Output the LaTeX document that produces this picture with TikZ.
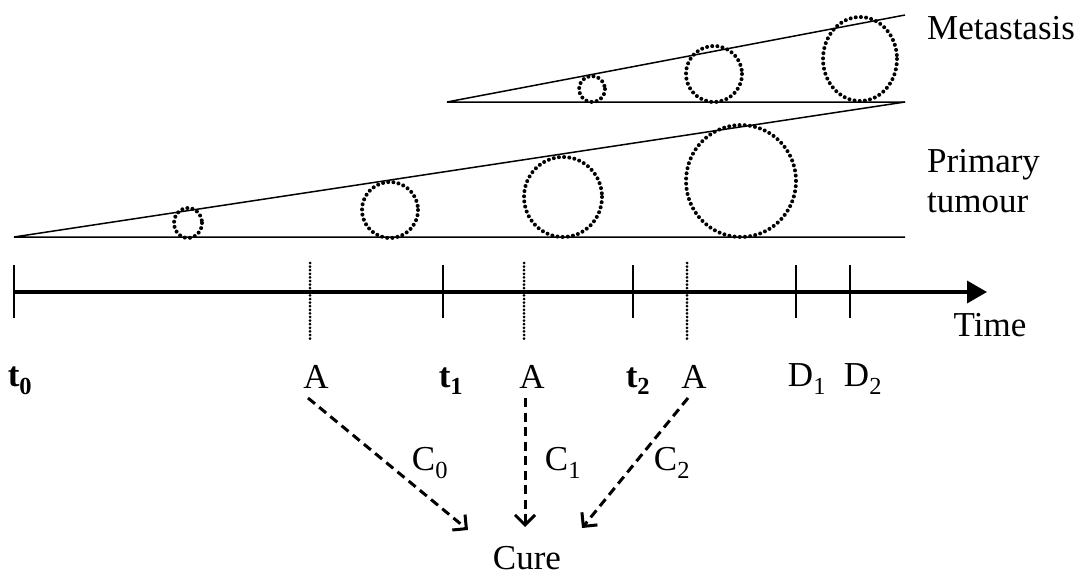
\documentclass[tikz,border=0pt]{standalone}
\usepackage{fontspec}
\setmainfont{Liberation Serif}
\usetikzlibrary{arrows.meta}
\begin{document}
\begin{tikzpicture}[x=1pt,y=-1pt,
  wedge/.style={line width=1.5pt},
  cell/.style={line width=4pt,dash pattern=on 0pt off 5.2pt,line cap=round},
  axis/.style={line width=3.6pt},
  tick/.style={line width=2.8pt},
  admin/.style={line width=3pt,dash pattern=on 0pt off 3.6pt,line cap=round},
  cureline/.style={line width=3pt,dash pattern=on 9pt off 5.5pt,-{Straight Barb[length=10pt,width=20pt,line width=3pt]}},
  lbl/.style={font=\fontsize{35}{40}\selectfont,inner sep=0pt},
  blbl/.style={font=\fontsize{35}{40}\selectfont\bfseries,inner sep=0pt}]
\useasboundingbox (0,0) rectangle (1089,578);
% primary tumour wedge
\coordinate (p0) at (14,237);
\coordinate (p1) at (905,237);
\coordinate (p2) at (905,102);
\draw[wedge] (p1) -- (p0) -- (p2);
\draw[cell] (188,223) ellipse [x radius=14,y radius=15];
\draw[cell] (390,210) ellipse [x radius=28,y radius=28];
\draw[cell] (563,197) ellipse [x radius=39,y radius=40];
\draw[cell] (741,181) ellipse [x radius=55,y radius=56];
% metastasis wedge
\coordinate (m0) at (447,102);
\coordinate (m1) at (905,102);
\coordinate (m2) at (905,15);
\draw[wedge] (m1) -- (m0) -- (m2);
\draw[cell] (592,89) ellipse [x radius=13,y radius=13];
\draw[cell] (714,74) ellipse [x radius=28,y radius=28];
\draw[cell] (860,59) ellipse [x radius=37,y radius=42];
\node[lbl,anchor=west] (meta) at (927,28) {Metastasis};
\node[lbl,anchor=west,align=left] (prim) at (927,181) {Primary\\tumour};
% time axis
\coordinate (a0) at (14,292);
\coordinate (a1) at (987,292);
\draw[axis,-{Triangle[length=20pt,width=22pt]}] (a0) -- (a1);
\foreach \x in {14,443,633,796,850}{\draw[tick] (\x,265) -- (\x,318);}
\foreach \x in {310,524,687}{\draw[admin] (\x,263) -- (\x,341);}
\node[lbl] (time) at (990,325) {Time};
% labels
\node[blbl] (t0) at (20,381) {t\textsubscript{0}};
\node[lbl] (A0) at (316,377) {A};
\node[blbl] (t1) at (451,381) {t\textsubscript{1}};
\node[lbl] (A1) at (532,377) {A};
\node[blbl] (t2) at (638,381) {t\textsubscript{2}};
\node[lbl] (A2) at (694,377) {A};
\node[lbl] (D1) at (807,379) {D\textsubscript{1}};
\node[lbl] (D2) at (863,379) {D\textsubscript{2}};
% cure
\node[lbl,anchor=base] (cure) at (527,569) {Cure};
\coordinate (e0) at (468,530);
\coordinate (e1) at (525,527);
\coordinate (e2) at (582,528);
\coordinate (s0) at (308,398);
\coordinate (s1) at (525,398);
\coordinate (s2) at (688,398);
\draw[cureline] (s0) -- (e0);
\draw[cureline] (s1) -- (e1);
\draw[cureline] (s2) -- (e2);
\node[lbl] (c0) at (430,463) {C\textsubscript{0}};
\node[lbl] (c1) at (563,463) {C\textsubscript{1}};
\node[lbl] (c2) at (672,463) {C\textsubscript{2}};
\end{tikzpicture}
\end{document}
